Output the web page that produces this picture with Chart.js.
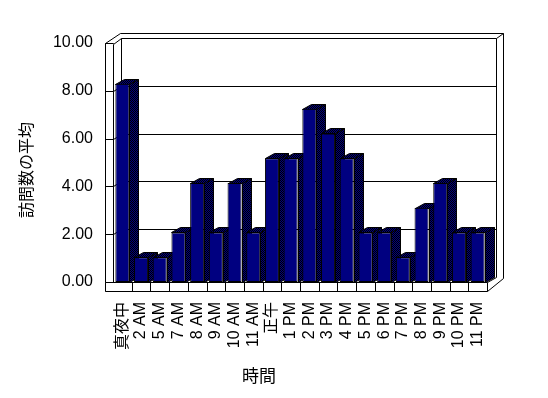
<!DOCTYPE html>
<html>
<head>
<meta charset="utf-8">
<script src="https://cdn.jsdelivr.net/npm/chart.js@4"></script>
<style>
  html, body { margin: 0; padding: 0; background: #fff; }
  #wrap { width: 548px; height: 398px; }
</style>
</head>
<body>
<div id="wrap"><canvas id="barChart"></canvas></div>
<script>
let hours = ['真夜中', '2 AM', '5 AM', '7 AM', '8 AM', '9 AM', '10 AM', '11 AM', '正午', '1 PM',
             '2 PM', '3 PM', '4 PM', '5 PM', '6 PM', '7 PM', '8 PM', '9 PM', '10 PM', '11 PM'];
let visitAverage = [8, 1, 1, 2, 4, 2, 4, 2, 5, 5, 7, 6, 5, 2, 2, 1, 3, 4, 2, 2];
let yTicks = [0, 2, 4, 6, 8, 10];
let xTitle = '時間';
let yTitle = '訪問数の平均';

const FONT = '"Liberation Sans", "Noto Sans CJK JP", sans-serif';
const DX = 8, DY = -5;    // wall depth
const BDX = 9, BDY = -5;  // bar depth

let checker = null;
function makeChecker(ctx){
    let c = document.createElement('canvas');
    c.width = 2; c.height = 2;
    let g = c.getContext('2d');
    g.fillStyle = '#000080'; g.fillRect(0, 0, 2, 2);
    g.fillStyle = '#000000'; g.fillRect(0, 0, 1, 1); g.fillRect(1, 1, 1, 1);
    return ctx.createPattern(c, 'repeat');
}

function path(ctx, pts, close){
    ctx.beginPath();
    pts.forEach((p, i) => {
        let x = Math.round(p[0]) + 0.5, y = Math.round(p[1]) + 0.5;
        if(i == 0) ctx.moveTo(x, y); else ctx.lineTo(x, y);
    });
    if(close) ctx.closePath();
}
function line(ctx, pts){ path(ctx, pts, false); ctx.stroke(); }

const frame3d = {
    id: 'frame3d',
    beforeDatasetsDraw(chart){
        const {ctx, chartArea: a, scales: {y}} = chart;
        const L = Math.round(a.left), R = Math.round(a.right), T = Math.round(a.top), B = Math.round(a.bottom);
        if(!checker) checker = makeChecker(ctx);
        ctx.save();
        ctx.strokeStyle = '#000';
        ctx.lineWidth = 1;

        // back wall + its thickness
        line(ctx, [[L + DX, B + DY], [L + DX, T + DY], [R + DX + 1, T + DY], [R + DX + 1, B + DY]]);
        line(ctx, [[L + 7, T - 10], [R + 16, T - 10], [R + 16, B - 4]]);
        line(ctx, [[R + DX + 1, T + DY], [R + 16, T - 10]]);

        // left wall slab
        line(ctx, [[L - 8, B + 9], [L - 8, T], [L + 7, T - 10]]);
        line(ctx, [[L, B], [L, T + 1], [L + DX, T + DY]]);
        line(ctx, [[L - 8, T], [L, T]]);

        // gridlines on back wall, ticks on left wall
        yTicks.forEach(v => {
            let yv = Math.round(y.getPixelForValue(v));
            line(ctx, [[L - 8, yv], [L, yv]]);
            if(v > 0 && v < 10) line(ctx, [[L, yv], [L + DX, yv + DY], [R + DX + 1, yv + DY]]);
        });

        // floor slab
        ctx.fillStyle = '#fff';
        path(ctx, [[L - 8, B], [R, B], [R, B + 9], [L - 8, B + 9]], true);
        ctx.fill(); ctx.stroke();
        line(ctx, [[R, B + 9], [R + 16, B - 4]]);
        line(ctx, [[R, B], [R + DX + 1, B + DY]]);
        let w = (a.right - a.left) / hours.length;
        for(let i = 1; i < hours.length; i++){
            let xd = a.left + i * w;
            line(ctx, [[xd, B], [xd, B + 9]]);
        }

        // bar sides and tops
        let meta = chart.getDatasetMeta(0);
        ctx.fillStyle = checker;
        meta.data.forEach(el => {
            let x1 = Math.round(el.x - el.width / 2), x2 = Math.round(el.x + el.width / 2);
            let yt = Math.round(el.y), yb = Math.round(el.base);
            path(ctx, [[x2, yt], [x2 + BDX, yt + BDY], [x2 + BDX, yb + BDY], [x2, yb]], true);
            ctx.fill(); ctx.stroke();
            path(ctx, [[x1, yt], [x1 + BDX, yt + BDY], [x2 + BDX, yt + BDY], [x2, yt]], true);
            ctx.fill(); ctx.stroke();
        });
        ctx.restore();
    },
    afterDraw(chart){
        const ctx = chart.ctx;
        ctx.save();
        ctx.fillStyle = '#000';
        ctx.textAlign = 'center';
        ctx.textBaseline = 'middle';
        ctx.font = '17px "Noto Sans CJK JP", sans-serif';
        ctx.fillText(xTitle, 259, 376);
        ctx.translate(26, 170);
        ctx.rotate(-Math.PI / 2);
        ctx.font = '16px "Noto Sans CJK JP", sans-serif';
        ctx.fillText(yTitle, 0, 0);
        ctx.restore();
    }
};

let chartBar = new Chart(document.getElementById('barChart'), {
    type: 'bar',
    data: {
        labels: hours,
        datasets: [{
            label: yTitle,
            data: visitAverage,
            backgroundColor: '#000080',
            borderColor: '#000000',
            borderWidth: 1,
            borderSkipped: false,
            barPercentage: 0.75,
            categoryPercentage: 1,
            yAxisID: 'yb'
        }]
    },
    options: {
        responsive: true,
        maintainAspectRatio: false,
        animation: false,
        layout: { padding: { top: 43, right: 61, bottom: 0, left: 0 } },
        plugins: { legend: { display: false }, tooltip: { enabled: false } },
        scales: {
            x: {
                grid: { display: false, drawTicks: false },
                border: { display: false },
                ticks: { minRotation: 90, maxRotation: 90, autoSkip: false, padding: 20, color: '#000', font: { family: FONT, size: 16 } },
                afterFit: s => { s.height = 116; }
            },
            y: {
                position: 'left',
                min: 0,
                max: 10,
                grid: { display: false, drawTicks: false },
                border: { display: false },
                ticks: { padding: 20, color: '#000', font: { family: FONT, size: 16 }, callback: v => Number(v).toFixed(2) },
                afterBuildTicks: s => { s.ticks = yTicks.map(v => ({ value: v })); },
                afterFit: s => { s.width = 113; }
            },
            // bar faces sit nearer the viewer than the axis wall
            yb: { display: false, min: 0, max: 9.65 }
        }
    },
    plugins: [frame3d]
});
</script>
</body>
</html>
